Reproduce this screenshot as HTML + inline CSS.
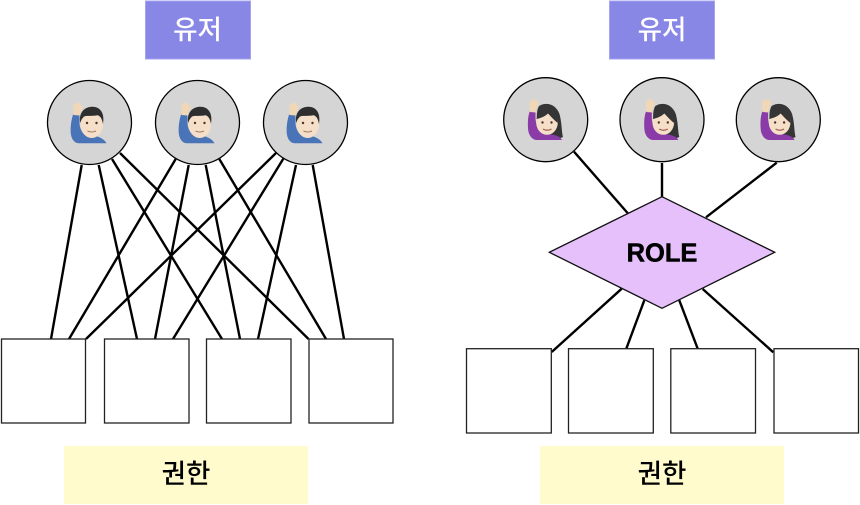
<!DOCTYPE html>
<html><head><meta charset="utf-8">
<style>
html,body{margin:0;padding:0;background:#fff}
svg{display:block}
text{font-family:"Noto Sans CJK KR","Liberation Sans",sans-serif;text-anchor:middle}
</style></head>
<body>
<svg width="860" height="505" viewBox="0 0 860 505" xmlns="http://www.w3.org/2000/svg">
<defs>
<filter id="soft" x="-10%" y="-10%" width="120%" height="120%"><feGaussianBlur stdDeviation="0.35"/></filter>
<g id="man" filter="url(#soft)">
  <path d="M73 114.500 C71 121 70 129 71 135 C72 140 75 143.300 79 143.300 L106.500 143.300 C104.500 139 99 136.500 93 135.500 L85 134 C81 132 79.500 127 79.500 122 L79.500 114.500 Z" fill="#4a74b8"/>
  <path d="M73.500 115 C74 110 73 106 74 103.500 L75.800 105.500 L76.500 101.500 L78.300 104.500 L79.800 102 L80.500 106 L82.500 104.500 C83 107.500 81 110.500 80 112.500 L79.500 115.500 Z" fill="#f2d7b6"/>
  <ellipse cx="91.700" cy="124.500" rx="11.300" ry="13.500" fill="#f6dfc8"/>
  <path d="M80.200 123 C78.500 112 85 106.800 92.500 106.800 C100 106.800 105 113 103 124 C102 119 100.500 116 97.500 115.300 C91 116.500 86 115.300 83.800 116.800 C82 118.500 81 120.500 80.200 123 Z" fill="#2f2f2f"/>
  <circle cx="87" cy="123" r="1.200" fill="#4a3528"/><circle cx="96.500" cy="123" r="1.200" fill="#4a3528"/>
  <path d="M87.500 131 Q91.700 133 96 131" stroke="#a07a60" stroke-width="1" fill="none"/>
</g>
<g id="woman" filter="url(#soft)">
  <path d="M539 106 C546 101.500 556 104 559.500 114 C562 123 561.500 132 563 137 L558 139 L541 135 C537 125 535 113 539 106 Z" fill="#353535"/>
  <path d="M530 111 C527.500 116 527.500 127 528.500 132 C530 137 533 140 537 140 L562 140 C560 136 555 135 549 134 L541 132 C538 130 536 124 535.500 119 L535.500 112 Z" fill="#8a3aa8"/>
  <path d="M530 112 C530 107 529 103 530 100 L531.800 102 L532.500 98 L534.200 101 L535.800 98.500 L536.800 102 L538.500 101 C539 104 537 107 536 109 L535.500 112.500 Z" fill="#f2d7b6"/>
  <ellipse cx="547" cy="122.500" rx="10.800" ry="12.300" fill="#f6dfc8"/>
  <path d="M536.500 119 C538 109 548 105.500 553.500 110.500 C557 114 558 119 557.800 123 C554 120 550.500 116 548 113.500 C545 116.500 541 118 536.500 119 Z" fill="#353535"/>
  <circle cx="542.500" cy="122.500" r="1.200" fill="#4a3528"/><circle cx="551.500" cy="122.500" r="1.200" fill="#4a3528"/>
  <path d="M543 129 Q547 131.500 551.500 129" stroke="#a0604f" stroke-width="1.200" fill="none"/>
</g>
</defs>

<!-- Left headers -->
<rect x="145.500" y="1" width="105" height="58" fill="#8987e6" stroke="#a5a3f0" stroke-width="1"/>
<text x="197.500" y="39" font-size="26.500" font-weight="500" fill="#fff">유저</text>
<rect x="64" y="446" width="244" height="58" fill="#fffbcc"/>
<text x="186" y="483" font-size="26.500" font-weight="500" fill="#000">권한</text>

<!-- Left lines -->
<g stroke="#000" stroke-width="2.400" fill="none">
  <line x1="81.700" y1="165" x2="51" y2="339"/>
  <line x1="98.700" y1="165" x2="137" y2="339"/>
  <line x1="112" y1="159" x2="222" y2="339"/>
  <line x1="120" y1="153" x2="308.500" y2="339"/>
  <line x1="175.700" y1="159" x2="69" y2="339"/>
  <line x1="188.700" y1="165" x2="155" y2="339"/>
  <line x1="205.700" y1="165" x2="240" y2="339"/>
  <line x1="219.300" y1="159" x2="326" y2="339"/>
  <line x1="276" y1="153" x2="86" y2="339"/>
  <line x1="283.300" y1="158.700" x2="173" y2="339"/>
  <line x1="296" y1="165" x2="258" y2="339"/>
  <line x1="312.700" y1="165" x2="344" y2="339"/>
</g>

<!-- Left circles -->
<g fill="#d5d5d5" stroke="#000" stroke-width="1.300">
  <circle cx="89.500" cy="122.500" r="42"/>
  <circle cx="197.500" cy="122.500" r="42"/>
  <circle cx="305.500" cy="122.500" r="42"/>
</g>
<use href="#man"/>
<use href="#man" x="108"/>
<use href="#man" x="216"/>

<!-- Left squares -->
<g fill="#fff" stroke="#222" stroke-width="1.300">
  <rect x="1.500" y="339" width="84" height="84"/>
  <rect x="104.500" y="339" width="84.500" height="84"/>
  <rect x="206.500" y="339" width="84.500" height="84"/>
  <rect x="309" y="339" width="84" height="84"/>
</g>

<!-- Right headers -->
<rect x="609.500" y="1" width="105" height="58" fill="#8987e6" stroke="#a5a3f0" stroke-width="1"/>
<text x="662" y="39" font-size="26.500" font-weight="500" fill="#fff">유저</text>
<rect x="540" y="446" width="244" height="58" fill="#fffbcc"/>
<text x="662" y="483" font-size="26.500" font-weight="500" fill="#000">권한</text>

<!-- Right lines -->
<g stroke="#000" stroke-width="2.400" fill="none">
  <line x1="574" y1="151.700" x2="628" y2="213.500"/>
  <line x1="662" y1="163" x2="662" y2="197"/>
  <line x1="776.700" y1="162.700" x2="706" y2="217.300"/>
  <line x1="621.700" y1="288.700" x2="551.700" y2="352"/>
  <line x1="644.300" y1="300.300" x2="626.300" y2="348.700"/>
  <line x1="679.300" y1="300.300" x2="697.700" y2="348.700"/>
  <line x1="702.700" y1="289" x2="773.300" y2="352.300"/>
</g>

<!-- Right circles -->
<g fill="#d5d5d5" stroke="#000" stroke-width="1.300">
  <circle cx="545.700" cy="119.700" r="42"/>
  <circle cx="662" cy="119.700" r="42"/>
  <circle cx="778.300" cy="119.700" r="42"/>
</g>
<use href="#woman"/>
<use href="#woman" x="116.300"/>
<use href="#woman" x="232.600"/>

<!-- Diamond -->
<polygon points="662,196.700 774.700,252.300 662,308.300 549.300,252.300" fill="#e5c0fa" stroke="#111" stroke-width="1.300"/>
<text x="662" y="261.500" font-size="25.500" font-weight="700" fill="#000" stroke="#000" stroke-width="0.500" style='font-family:"Liberation Sans",sans-serif'>ROLE</text>

<!-- Right squares -->
<g fill="#fff" stroke="#222" stroke-width="1.300">
  <rect x="466.500" y="348.700" width="84.800" height="84.300"/>
  <rect x="568.500" y="348.700" width="84.800" height="84.300"/>
  <rect x="670.800" y="348.700" width="84.700" height="84.300"/>
  <rect x="774" y="348.700" width="84.500" height="84.300"/>
</g>
</svg>
</body></html>
